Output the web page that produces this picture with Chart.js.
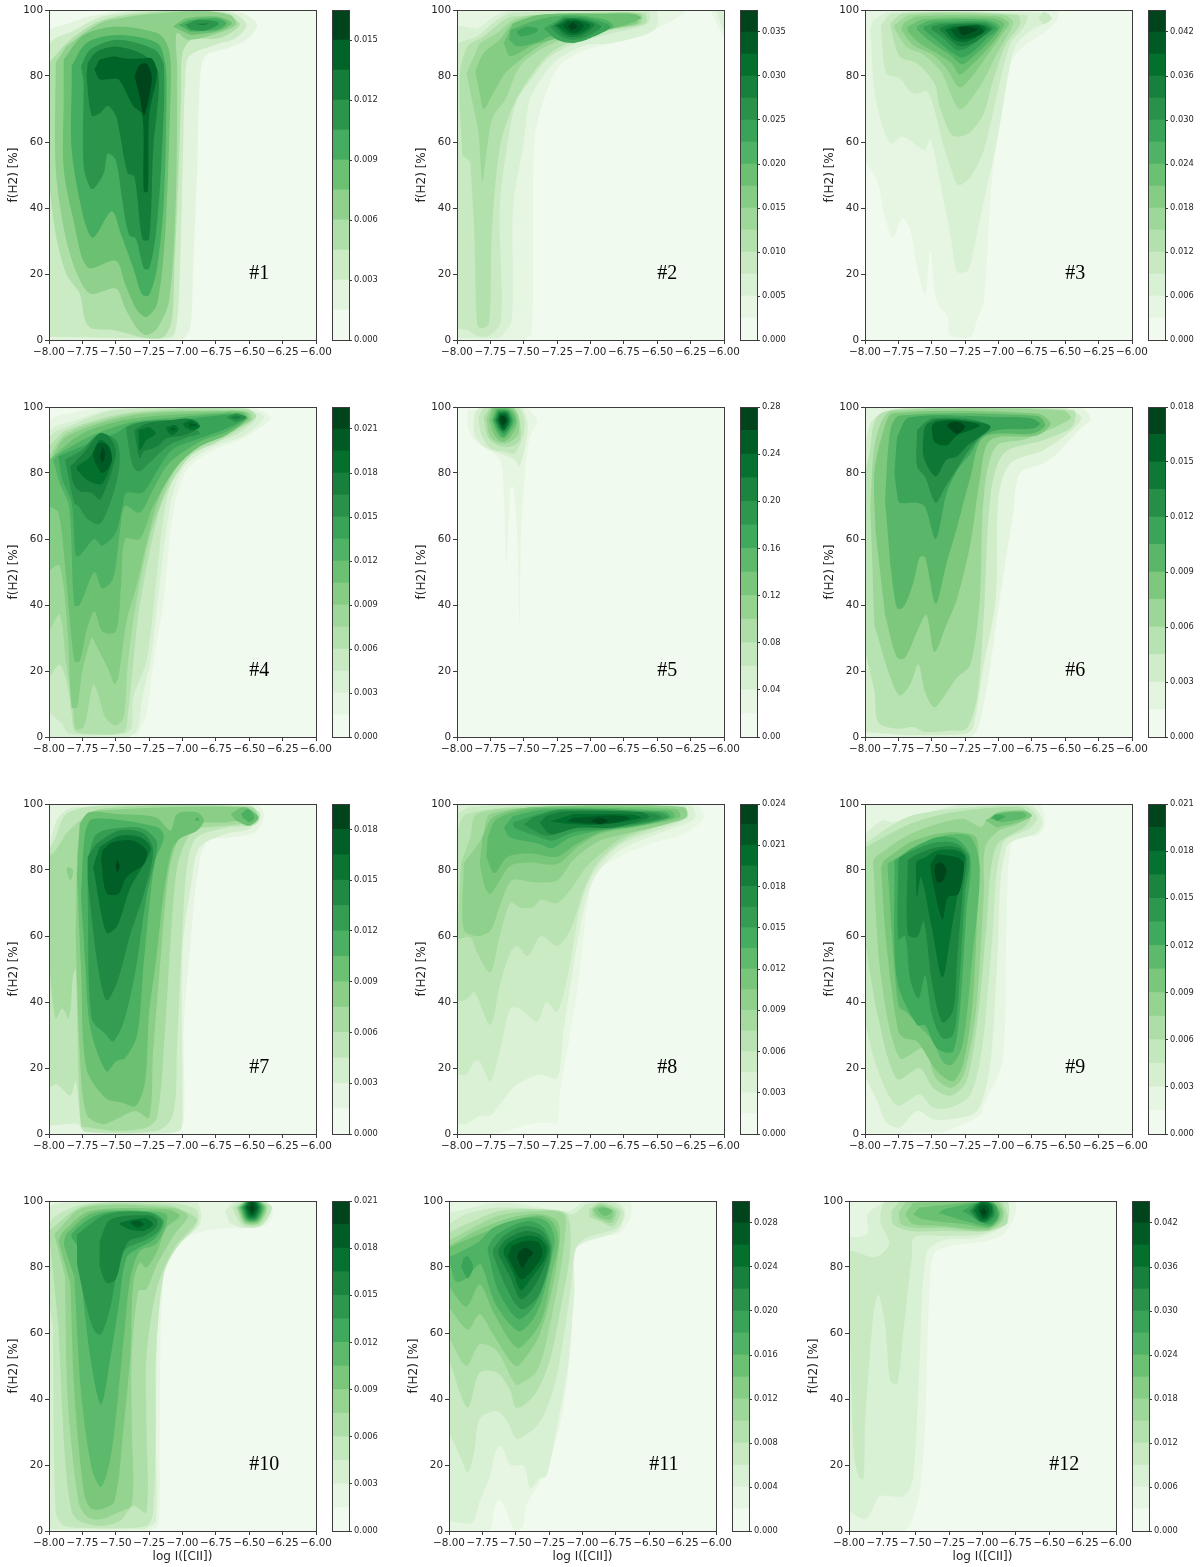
<!DOCTYPE html>
<html lang="en">
<head>
<meta charset="UTF-8" />
<title>f(H2) vs log I([CII])</title>
<script src="https://cdn.jsdelivr.net/npm/chart.js"></script>
<style>
  html, body { margin: 0; background: #fff; }
  body { position: relative; width: 1200px; height: 1567px; overflow: hidden; }
  canvas { position: absolute; filter: blur(0.55px); }
</style>
</head>
<body>
<script>
// axis ticks
const xTicks = [-8, -7.75, -7.5, -7.25, -7, -6.75, -6.5, -6.25, -6];
const yTicks = [0, 20, 40, 60, 80, 100];
const panelNames = ['#1','#2','#3','#4','#5','#6','#7','#8','#9','#10','#11','#12'];
const bandCounts = [11, 15, 15, 15, 14, 12, 13, 16, 14, 14, 15, 15];
const cbarMax = [0.0165, 0.0375, 0.045, 0.0225, 0.28, 0.018, 0.0195, 0.024, 0.021, 0.021, 0.03, 0.045];
const cbarTicks = [
  ['0.000','0.003','0.006','0.009','0.012','0.015'],
  ['0.000','0.005','0.010','0.015','0.020','0.025','0.030','0.035'],
  ['0.000','0.006','0.012','0.018','0.024','0.030','0.036','0.042'],
  ['0.000','0.003','0.006','0.009','0.012','0.015','0.018','0.021'],
  ['0.00','0.04','0.08','0.12','0.16','0.20','0.24','0.28'],
  ['0.000','0.003','0.006','0.009','0.012','0.015','0.018'],
  ['0.000','0.003','0.006','0.009','0.012','0.015','0.018'],
  ['0.000','0.003','0.006','0.009','0.012','0.015','0.018','0.021','0.024'],
  ['0.000','0.003','0.006','0.009','0.012','0.015','0.018','0.021'],
  ['0.000','0.003','0.006','0.009','0.012','0.015','0.018','0.021'],
  ['0.000','0.004','0.008','0.012','0.016','0.020','0.024','0.028'],
  ['0.000','0.006','0.012','0.018','0.024','0.030','0.036','0.042']
];
const labelX = -6.5, labelY = 18.5;

// contour regions: [band, [x,y, x,y, ...]] in data units
const contours1 = [
[1,[-8,0,-8,93,-7.85,96,-7.7,98,-7.5,99.5,-7.2,100,-6.75,100,-6.55,99,-6.44,95.5,-6.52,91,-6.66,88.5,-6.83,86,-6.87,78,-6.89,52,-6.92,22,-6.94,4,-6.99,0.5,-7.1,0]],
[2,[-8,1,-8,89,-7.8,94,-7.6,98,-7.3,99.7,-6.9,100,-6.62,99,-6.52,95.5,-6.6,91.5,-6.75,89.5,-6.95,86,-6.98,78,-7,50,-7.02,20,-7.04,6,-7.08,1,-7.3,0.5]],
[3,[-8,48,-7.95,32,-7.87,20,-7.77,14,-7.73,6,-7.68,3.5,-7.52,3,-7.27,0.5,-7.14,1,-7.08,6,-7.06,22,-7.03,50,-7.01,75,-7,87,-6.93,91,-6.72,91.5,-6.57,95.5,-6.66,98.5,-6.85,99.7,-7.2,99.5,-7.6,97,-7.84,91,-8,84]],
[4,[-7.95,84,-7.95,52,-7.88,32,-7.79,20,-7.69,14,-7.5,15.6,-7.43,9.6,-7.34,3.5,-7.27,1.5,-7.19,3.5,-7.1,12,-7.05,42,-7.04,83,-7.05,90,-7.04,93,-6.96,91,-6.77,92.5,-6.6,95.5,-6.64,98.5,-6.87,99.7,-7.12,99.2,-7.37,98.2,-7.62,96,-7.87,89]],
[5,[-7.89,73,-7.89,52,-7.82,37,-7.71,22,-7.5,24,-7.43,17,-7.34,9,-7.27,7,-7.19,11,-7.13,32,-7.09,73,-7.09,85,-7.12,90,-7.19,93,-7.49,95,-7.74,92.4,-7.89,85]],
[5,[-7.07,95,-6.97,97.5,-6.74,98,-6.63,96,-6.74,93.5,-6.94,92.4]],
[6,[-7.83,78,-7.83,57.6,-7.74,37,-7.67,31,-7.53,39,-7.46,32,-7.37,22,-7.3,13.6,-7.25,13.6,-7.19,22,-7.14,42,-7.12,73,-7.13,84,-7.19,90,-7.49,92.4,-7.72,90,-7.83,83]],
[6,[-7.03,95.5,-6.94,97,-6.74,97.5,-6.67,96,-6.74,94,-6.94,93.4]],
[7,[-7.74,78,-7.74,52.5,-7.69,46,-7.66,46,-7.59,50.5,-7.56,56.5,-7.5,54.5,-7.45,42,-7.4,31.8,-7.35,30.8,-7.29,21.7,-7.25,21.7,-7.2,32,-7.16,52.5,-7.14,83,-7.21,88,-7.49,91,-7.69,88,-7.76,83]],
[7,[-6.98,95.5,-6.89,97,-6.74,96.5,-6.73,95.5,-6.84,93.7,-6.94,94]],
[8,[-7.72,80,-7.68,68,-7.62,68.7,-7.56,71,-7.5,68,-7.47,62.6,-7.41,50.5,-7.36,49.5,-7.3,30.5,-7.25,30.5,-7.22,57.6,-7.18,80.8,-7.29,86.4,-7.49,88.9,-7.64,87.4,-7.71,84]],
[8,[-6.9,95.8,-6.8,95.9,-6.85,95.4]],
[9,[-7.66,82,-7.62,79,-7.56,79,-7.48,79,-7.37,71,-7.3,68.2,-7.29,45,-7.26,45,-7.25,68,-7.19,81,-7.23,85.3,-7.29,85.3,-7.43,85.3,-7.52,85.9,-7.62,85]],
[10,[-7.36,80,-7.32,83.3,-7.27,83.8,-7.23,80,-7.25,73.7,-7.29,68,-7.32,73.7]]
];
const contours2 = [
[1,[-8,0,-8,100,-6.3,100,-6.55,93.5,-6.8,90.4,-7.03,88,-7.23,83.3,-7.35,72.7,-7.42,60.6,-7.43,32,-7.44,2,-7.49,0]],
[1,[-6.1,100,-6,92,-6,100]],
[2,[-6.06,100,-6,94,-6,100]],
[2,[-8,0.5,-8,94.5,-7.85,94.5,-7.7,98.5,-7.58,100,-6.52,100,-6.52,94,-6.83,90,-7.03,89.4,-7.25,85,-7.38,78.6,-7.46,72,-7.5,60,-7.58,40,-7.59,6,-7.68,0.5]],
[3,[-8,3.5,-8,89,-7.85,92,-7.7,97,-7.58,99.2,-6.57,99.5,-6.57,96,-6.83,93,-7.08,90.4,-7.3,86,-7.43,79.8,-7.55,72.7,-7.62,60,-7.68,40,-7.67,6,-7.75,1.5,-7.83,1,-7.92,3]],
[4,[-7.96,56,-7.98,80,-7.92,89,-7.8,92,-7.68,96,-7.58,98,-6.6,99,-6.59,96,-6.83,94,-7.08,91.5,-7.3,87,-7.43,81,-7.58,71,-7.68,58,-7.74,32,-7.76,5,-7.82,3.5,-7.85,5,-7.87,32,-7.9,54]],
[5,[-7.93,80.8,-7.89,73,-7.84,63,-7.81,48,-7.77,59.6,-7.73,67.7,-7.64,72.7,-7.53,82.8,-7.38,87.9,-7.18,91.4,-6.83,94.4,-6.63,95.9,-6.62,98.8,-6.88,99.2,-7.43,98.5,-7.58,97,-7.7,93,-7.83,90]],
[6,[-7.86,80.8,-7.83,74.7,-7.8,70,-7.73,74.7,-7.64,80.8,-7.53,84.8,-7.35,89.9,-7.18,93,-6.88,94.4,-6.65,96,-6.66,98.5,-6.92,99,-7.38,98.5,-7.58,96,-7.68,91,-7.8,87,-7.86,82]],
[7,[-7.65,90,-7.6,86,-7.43,89.4,-7.18,92,-6.83,94.4,-6.62,97.5,-6.67,98.8,-6.92,98.8,-7.38,98.5,-7.58,96]],
[8,[-7.61,91,-7.55,89,-7.39,90.4,-7.3,92,-7.13,91.4,-6.98,93,-6.83,95,-6.88,97,-7.15,98.5,-7.4,97,-7.6,94]],
[9,[-7.55,93,-7.52,92,-7.4,93.4,-7.4,94.4,-7.48,94.9,-7.55,93.7]],
[9,[-7.35,94.4,-7.25,91,-7.13,90,-7,91.5,-6.85,95,-7.05,97.8,-7.2,98]],
[10,[-7.3,94.8,-7.22,92,-7.13,91,-7.03,92,-6.92,95,-7.05,97.3,-7.2,97.6]],
[11,[-7.27,95.3,-7.2,92.6,-7.13,91.8,-7.05,92.6,-6.97,95.5,-7.08,97.2,-7.18,97.4]],
[12,[-7.25,95.2,-7.18,93,-7.13,92.4,-7.07,93,-7,95.4,-7.1,97,-7.18,97]],
[13,[-7.21,95.2,-7.16,93.5,-7.13,93,-7.08,93.6,-7.05,95.3,-7.1,96.6,-7.17,96.6]],
[14,[-7.17,95.2,-7.14,94,-7.1,95,-7.13,96.2]]
];
const contours3 = [
[1,[-8,54,-7.91,48.5,-7.85,37,-7.79,31,-7.72,37,-7.66,33,-7.61,22,-7.55,14,-7.51,27,-7.48,15,-7.45,10.6,-7.38,7,-7.37,2,-7.32,0.8,-7.21,1,-7.16,6,-7.11,12,-7.04,52,-6.91,84,-6.81,89,-6.66,93,-6.56,97,-6.56,100,-8,100]],
[2,[-7.96,94,-7.92,73,-7.81,59.6,-7.72,61.6,-7.58,58,-7.55,57.6,-7.51,61,-7.44,48.5,-7.41,42,-7.36,32,-7.31,20.7,-7.23,21,-7.2,25,-7.1,44,-7.01,60.6,-6.91,84,-6.86,89.9,-6.75,94,-6.61,97,-6.63,99,-7.81,99.5,-7.94,97]],
[3,[-6.7,97.5,-6.66,99.5,-6.6,97.5,-6.66,95.5]],
[3,[-7.88,94,-7.84,80.8,-7.74,79.3,-7.64,74.7,-7.53,75.2,-7.41,58.6,-7.36,52.5,-7.3,47,-7.21,49.5,-7.11,57.6,-7.01,74.7,-6.91,89.9,-6.81,95,-6.79,98.5,-7.79,99,-7.88,95.5]],
[4,[-7.81,95,-7.74,85.9,-7.61,83.8,-7.48,77.8,-7.44,70.7,-7.36,62.6,-7.3,61.6,-7.21,63,-7.11,68.7,-7.04,78.8,-6.94,89.9,-6.84,95.5,-6.86,98.5,-7.71,99,-7.81,96]],
[5,[-7.78,94.4,-7.69,88.9,-7.56,86.4,-7.43,81.3,-7.36,74.7,-7.29,69.9,-7.21,72.7,-7.11,78.8,-7.01,86.9,-6.91,93.9,-6.89,96.5,-6.96,98.5,-7.66,98.5,-7.78,95.5]],
[6,[-7.73,94,-7.64,89.4,-7.49,86.4,-7.39,82.3,-7.29,76.6,-7.19,80.3,-7.09,85.9,-6.97,92.9,-6.92,96,-7.01,98,-7.61,98,-7.71,96]],
[7,[-7.68,93.4,-7.59,89.9,-7.44,86.4,-7.35,83.8,-7.29,80.5,-7.19,83.8,-7.09,87.9,-6.99,92.9,-6.96,96,-7.06,97.5,-7.56,97.2,-7.68,95]],
[8,[-7.61,94,-7.51,90.4,-7.36,86.4,-7.27,83.6,-7.19,85.9,-7.06,90.9,-6.99,95,-7.09,97,-7.51,96.8,-7.61,95]],
[9,[-7.56,94,-7.45,90.4,-7.34,86.9,-7.27,85.6,-7.19,87.4,-7.09,91.4,-7.01,94.4,-7.1,96.5,-7.46,96.2,-7.56,95]],
[10,[-7.5,94,-7.41,91.4,-7.31,87.9,-7.24,88.4,-7.14,91.4,-7.04,94.4,-7.11,96,-7.41,95.8,-7.5,95]],
[11,[-7.44,94,-7.36,90.9,-7.29,89,-7.19,89.9,-7.09,92.9,-7.06,94.4,-7.14,95.7,-7.36,95.5,-7.44,94.5]],
[12,[-7.4,94,-7.33,90.9,-7.24,90.4,-7.14,92.4,-7.09,94.4,-7.15,95.5,-7.34,95]],
[13,[-7.36,94,-7.3,91.4,-7.21,91.4,-7.11,93.4,-7.16,95.2,-7.31,94.8]],
[14,[-7.3,94,-7.27,92.4,-7.22,92.9,-7.16,94,-7.24,95,-7.3,94.8]]
];
const contours4 = [
[1,[-8,0,-8,95,-7.8,98.5,-7.5,100,-6.5,100,-6.34,97,-6.39,94.5,-6.57,90,-6.77,87,-6.97,80.8,-7.07,67.7,-7.14,42,-7.22,22,-7.27,7,-7.34,0.5]],
[2,[-8,0,-8,92,-7.8,96,-7.5,99.5,-6.6,100,-6.39,97,-6.54,91.4,-6.77,88,-6.99,81.8,-7.09,70.7,-7.17,46.5,-7.24,23,-7.3,12,-7.34,2,-7.4,0]],
[3,[-8,7.5,-8,90,-7.8,95,-7.5,99,-6.65,99.5,-6.45,97,-6.58,92,-6.77,89,-7,83,-7.12,72,-7.2,46,-7.27,23,-7.37,12,-7.38,3,-7.43,1,-7.85,1,-7.9,4]],
[4,[-8,18,-7.92,22,-7.87,17,-7.83,7,-7.81,2,-7.74,1,-7.44,1.5,-7.41,7,-7.37,22,-7.32,40,-7.18,67.7,-7.07,78,-6.92,86,-6.74,89.4,-6.45,97,-6.52,99.5,-7.37,98.5,-7.87,93,-8,88]],
[5,[-8,32,-7.92,37,-7.87,22,-7.82,9,-7.8,2.5,-7.74,3,-7.67,16,-7.64,14,-7.58,6,-7.5,3.5,-7.44,6,-7.41,22,-7.35,40,-7.25,60,-7.17,70,-7.07,80,-6.94,87,-6.74,91,-6.48,96,-6.5,98.5,-6.7,99,-7.37,98,-7.87,92,-8,85]],
[6,[-8,50.5,-7.92,52,-7.86,32,-7.83,9,-7.79,9,-7.75,20,-7.68,30,-7.65,28,-7.55,20,-7.51,16,-7.48,18,-7.42,35,-7.35,45,-7.25,62,-7.18,72,-7.07,81,-6.94,88,-6.74,92,-6.5,96,-6.52,98.4,-6.7,98.8,-7.37,97.5,-7.87,91,-8,83]],
[7,[-8,70,-7.93,68,-7.88,52,-7.81,23,-7.77,23,-7.72,32,-7.66,38,-7.6,32,-7.5,32,-7.46,46,-7.43,60,-7.32,60,-7.22,70,-7.04,82,-6.87,88,-6.67,91.5,-6.51,96.5,-6.55,98.4,-6.72,98.3,-7.37,96.5,-7.75,92,-8,84]],
[8,[-7.97,84,-7.92,77,-7.85,70,-7.81,40,-7.77,40,-7.66,50,-7.6,45,-7.52,48,-7.47,62,-7.43,70,-7.32,68,-7.22,75,-7.1,83,-6.87,89.5,-6.67,92.5,-6.52,96.5,-6.57,98,-6.75,97.8,-7,97,-7.37,95.5,-7.7,91,-7.92,86]],
[9,[-7.93,85,-7.9,78,-7.83,71,-7.8,55,-7.77,55,-7.66,60,-7.6,58,-7.5,62,-7.45,70,-7.42,74,-7.3,74,-7.2,80,-7.08,87,-6.87,90.5,-6.67,93.5,-6.53,96.5,-6.6,97.8,-6.78,97.2,-7,96.2,-7.37,95,-7.5,92,-7.7,89]],
[10,[-7.88,84,-7.85,78,-7.81,71,-7.78,70,-7.71,66,-7.62,64.6,-7.55,70,-7.49,78,-7.47,85,-7.5,90,-7.62,92,-7.75,87]],
[10,[-7.42,92,-7.37,82,-7.32,80.5,-7.25,83,-7.1,88.5,-6.95,91,-6.87,92,-6.97,95.5,-7.1,96,-7.3,95.5,-7.42,94]],
[10,[-6.67,96.8,-6.6,98,-6.52,96.8,-6.6,95.4]],
[11,[-6.64,96.8,-6.6,97.4,-6.56,96.8,-6.6,96.2]],
[11,[-7.84,82,-7.82,77,-7.77,74.5,-7.68,74,-7.62,72,-7.57,76,-7.52,82,-7.5,87,-7.55,91,-7.62,92,-7.72,87]],
[11,[-7.35,90,-7.32,84.5,-7.29,86.5,-7.19,88,-7.12,90.5,-6.98,91.5,-6.87,94,-6.89,95.5,-6.97,96.5,-7.09,96,-7.2,95.5,-7.3,94.5,-7.36,93]],
[12,[-7.79,81,-7.72,78,-7.62,76.5,-7.58,78,-7.53,84,-7.55,88,-7.62,90,-7.69,85,-7.79,82]],
[12,[-7.12,93,-7.08,91.5,-7.03,93,-7.05,94.5,-7.12,94]],
[12,[-6.98,93.8,-6.93,93,-6.87,94,-6.93,96,-7,95]],
[12,[-7.33,93,-7.32,87,-7.27,90,-7.2,92,-7.25,94]],
[13,[-7.66,83.5,-7.6,80,-7.53,83.5,-7.56,88.5,-7.63,89,-7.67,86]],
[13,[-7.1,93,-7.05,93,-7.07,94]],
[13,[-6.95,94,-6.89,94.5,-6.95,95.2]],
[14,[-7.62,85,-7.6,83,-7.58,86,-7.6,88]]
];
const contours5 = [
[1,[-7.92,99,-7.92,94,-7.87,90,-7.68,84,-7.65,73,-7.63,52,-7.6,75,-7.58,76,-7.55,62,-7.53,34,-7.52,62,-7.49,79.8,-7.46,90,-7.43,93,-7.4,96,-7.48,100]],
[2,[-7.87,98,-7.87,92,-7.8,88,-7.68,86,-7.57,84,-7.53,82,-7.47,93,-7.49,98,-7.53,100,-7.83,100]],
[3,[-7.84,97,-7.82,92,-7.75,87.5,-7.65,86.5,-7.57,86,-7.5,92,-7.5,97,-7.55,100,-7.8,100]],
[4,[-7.8,97,-7.77,91,-7.7,88.5,-7.6,88,-7.53,90,-7.53,96,-7.58,100,-7.75,100]],
[5,[-7.78,96.5,-7.75,91,-7.67,89,-7.6,89.5,-7.54,92,-7.54,97,-7.59,100,-7.74,100]],
[6,[-7.76,96,-7.72,91.5,-7.66,89.5,-7.6,91,-7.55,95,-7.59,99.5,-7.73,99.8]],
[7,[-7.74,96,-7.7,92,-7.65,90.5,-7.6,92.5,-7.56,96,-7.61,99.3,-7.71,99.5]],
[8,[-7.73,96,-7.69,92.5,-7.65,91,-7.61,93,-7.58,96,-7.62,99,-7.7,99.2]],
[9,[-7.72,96,-7.68,93,-7.65,92,-7.61,93.5,-7.59,96,-7.62,98.7,-7.69,98.8]],
[10,[-7.71,96,-7.68,93.3,-7.65,92.6,-7.62,94,-7.6,96,-7.63,98.4,-7.69,98.4]],
[11,[-7.7,96,-7.67,93.7,-7.65,93,-7.62,94.4,-7.61,96,-7.63,98,-7.68,98]],
[12,[-7.69,96,-7.67,94.2,-7.65,93.6,-7.63,95,-7.62,96,-7.64,97.6,-7.68,97.6]],
[13,[-7.68,96,-7.66,94.6,-7.64,95,-7.63,96,-7.65,97.2,-7.67,97.2]]
];
const contours6 = [
[1,[-8,0,-8,100,-6.4,100,-6.31,96.5,-6.41,92.5,-6.56,86,-6.66,83,-6.84,79.8,-6.89,67.7,-6.99,42,-7.06,22,-7.11,10,-7.16,2,-7.21,0]],
[2,[-8,1.5,-8,85,-7.96,95,-7.85,98.5,-7.6,100,-6.55,100,-6.38,97,-6.45,93,-6.66,87,-6.91,83,-7,72.7,-7.02,42,-7.11,22,-7.19,3,-7.24,1,-7.7,0.5]],
[3,[-8,26,-7.93,14,-7.9,4.5,-7.76,2.5,-7.64,3,-7.55,1.5,-7.36,2,-7.24,2.5,-7.16,12,-7.11,37,-7.06,73,-6.96,86,-6.66,90,-6.45,94,-6.44,99,-7.6,99.6,-7.9,97.5,-7.97,85,-8,80]],
[4,[-7.93,34,-7.81,18,-7.74,12.6,-7.66,16,-7.6,22,-7.55,13.6,-7.48,9,-7.38,14,-7.31,18,-7.21,22,-7.14,42,-7.11,73,-7.02,88,-6.79,90.4,-6.46,96.5,-6.52,99,-7.8,98.8,-7.92,90,-7.96,70]],
[5,[-7.85,37,-7.76,24,-7.7,24,-7.61,32,-7.54,37,-7.48,25.8,-7.39,34,-7.31,42,-7.21,58.6,-7.14,77.8,-7.06,90,-6.71,91.4,-6.61,95,-6.71,98,-7.79,98.1,-7.86,93,-7.93,80,-7.92,62]],
[6,[-7.81,52,-7.76,39,-7.71,39.4,-7.64,46.5,-7.59,54.5,-7.55,54.5,-7.47,40.4,-7.39,52.5,-7.31,63.6,-7.21,78.8,-7.11,90.9,-6.74,92,-6.65,94.5,-6.71,97.3,-7.74,97.4,-7.81,93,-7.85,72]],
[7,[-7.78,80,-7.76,73.7,-7.74,71,-7.61,71,-7.55,69.7,-7.47,60,-7.39,73.7,-7.31,80.8,-7.21,85.9,-7.14,90.4,-7.01,93,-6.74,93.5,-6.69,95,-6.76,96.6,-7.01,97,-7.67,96.8,-7.76,91]],
[8,[-7.61,93,-7.61,82,-7.55,78.8,-7.47,71,-7.4,75.7,-7.31,81.3,-7.24,85.9,-7.16,90,-7.06,94,-7.21,96.3,-7.49,96.6,-7.56,95]],
[9,[-7.56,93,-7.56,84.8,-7.47,79,-7.39,84,-7.31,85,-7.24,88,-7.06,94,-7.24,95.9,-7.46,96.2,-7.54,94.8]],
[10,[-7.5,93,-7.48,89.4,-7.39,88.4,-7.31,91.4,-7.14,94.4,-7.31,95.9,-7.46,95.5,-7.5,94.4]],
[11,[-7.39,94.4,-7.31,91.9,-7.25,94,-7.31,95.6,-7.36,95.3]]
];
const contours7 = [
[1,[-8,0,-8,100,-6.45,100,-6.39,96.5,-6.46,91.4,-6.64,89.9,-6.82,88.4,-6.89,77.8,-6.93,62.6,-6.99,32,-6.99,4,-7.05,1,-7.2,0]],
[2,[-8,2.5,-7.79,3,-7.73,0.5,-7.2,0.2,-7.02,1,-7,5,-7,55,-6.93,77,-6.87,87,-6.67,91,-6.5,92.4,-6.42,96.5,-6.5,99.8,-7.8,99,-7.93,96,-8,87]],
[3,[-8,14,-7.94,15,-7.84,11.6,-7.8,16,-7.76,3,-7.73,0.7,-7.19,1,-7.07,6,-7.04,27,-7,62,-6.96,83,-6.89,90,-6.66,92.9,-6.45,93.9,-6.42,97,-6.52,99.5,-7.62,99.5,-7.87,97,-7.96,89,-8,86]],
[4,[-8,52,-7.95,35,-7.9,38,-7.85,35,-7.82,48,-7.8,50,-7.76,2.5,-7.7,2,-7.5,1,-7.27,2,-7.19,5,-7.13,32,-7.09,58,-7.04,81,-6.96,90,-6.89,92.5,-6.66,93.5,-6.44,95,-6.48,99,-7.62,98.5,-7.85,92,-7.95,86,-8,84]],
[5,[-7.8,60,-7.77,25,-7.72,6,-7.6,3,-7.5,4.5,-7.35,7,-7.25,5,-7.22,25,-7.16,55,-7.1,80,-7.02,90,-6.89,94,-6.66,94.5,-6.46,96.5,-6.52,99,-7.62,98,-7.75,95,-7.79,85]],
[5,[-7.87,80,-7.84,76.8,-7.82,80,-7.86,81]],
[6,[-6.64,97,-6.54,99,-6.43,96,-6.5,93.4,-6.6,95]],
[6,[-7.79,78,-7.76,50,-7.72,20,-7.58,11,-7.45,9.5,-7.35,8.5,-7.28,16,-7.25,37,-7.2,52,-7.14,73,-7.08,86,-7.02,89.5,-6.89,92,-6.84,95,-6.89,97.5,-7.04,97,-7.09,92,-7.2,96,-7.5,97,-7.7,97.5,-7.77,94]],
[7,[-7.73,52.5,-7.69,32,-7.57,19,-7.5,22,-7.43,23,-7.34,30,-7.29,52,-7.21,82,-7.14,90,-7.19,93,-7.67,95.5,-7.73,91,-7.76,72]],
[7,[-6.91,95,-6.89,96,-6.87,95]],
[7,[-6.56,97,-6.51,98.5,-6.46,96,-6.5,94.5,-6.55,96]],
[8,[-7.71,72,-7.68,35,-7.57,30,-7.52,28,-7.44,34,-7.35,50,-7.27,72,-7.19,88,-7.27,92,-7.37,93,-7.64,91,-7.71,83]],
[9,[-7.71,77,-7.64,52.5,-7.57,40.5,-7.49,46,-7.39,60.6,-7.29,72.7,-7.22,86,-7.29,91,-7.47,92,-7.64,88,-7.71,84]],
[10,[-7.67,81,-7.57,61,-7.49,63,-7.39,74.7,-7.27,83,-7.24,87,-7.32,90,-7.47,90.4,-7.62,87]],
[11,[-7.61,83,-7.57,73,-7.48,72.7,-7.42,77.8,-7.29,81.8,-7.27,85.9,-7.37,88.9,-7.52,88.4,-7.6,85.9]],
[12,[-7.5,81,-7.49,79.5,-7.47,81,-7.49,83.3]]
];
const contours8 = [
[1,[-8,0,-8,100,-6.22,100,-6.15,96,-6.3,91,-6.55,88,-6.83,83,-6.98,78,-7.1,43,-7.23,12,-7.25,3.5,-7.36,3.5,-7.5,2.5,-7.62,1,-7.72,0]],
[2,[-8,3,-7.93,3,-7.83,5.5,-7.75,5.5,-7.68,9,-7.58,14,-7.53,15.5,-7.38,18,-7.25,17,-7.2,32,-7.08,62,-6.98,77,-6.78,86,-6.43,92,-6.22,95.5,-6.25,99.5,-7,100,-8,100]],
[3,[-8,18,-7.93,18,-7.87,22,-7.83,22,-7.75,16,-7.68,25,-7.6,38,-7.53,38,-7.4,34,-7.33,40,-7.25,37,-7.17,48,-7.08,68,-6.98,79,-6.78,87.5,-6.43,93,-6.27,96,-6.3,99.5,-7.4,100,-7.9,99,-8,97]],
[4,[-8,40,-7.92,41,-7.87,43,-7.75,33,-7.68,45,-7.6,55,-7.55,57,-7.47,54,-7.37,60,-7.25,57,-7.15,62,-7.05,74,-6.95,82,-6.75,89,-6.43,94,-6.3,96.5,-6.34,99,-7.4,99.5,-7.93,97,-8,92]],
[5,[-8,59,-7.9,59.6,-7.85,55,-7.75,49,-7.68,60,-7.6,70,-7.52,68.5,-7.43,68.7,-7.37,71,-7.25,70,-7.15,74,-7.05,80,-6.95,84,-6.75,90,-6.43,94.5,-6.33,96.5,-6.37,99,-7.37,99,-7.85,97,-7.9,90,-7.97,82]],
[6,[-7.95,81,-7.95,62,-7.85,60,-7.75,61.6,-7.68,69,-7.59,76.8,-7.43,76.3,-7.25,76.8,-7.13,83,-6.93,88.9,-6.53,92.9,-6.28,96,-6.3,99,-7.13,99.5,-7.75,97,-7.81,90,-7.95,82]],
[7,[-7.83,82,-7.79,74.7,-7.75,72.7,-7.68,76.8,-7.6,81.3,-7.45,82.3,-7.25,81.8,-7.1,86.9,-6.93,90.9,-6.6,93.4,-6.33,96,-6.36,98.5,-7.43,99,-7.73,96,-7.81,90]],
[8,[-7.78,84,-7.72,79,-7.62,84,-7.45,85,-7.25,84,-7.1,88,-6.93,91.4,-6.62,93.6,-6.37,96,-6.4,98,-7.4,98.7,-7.7,95.5,-7.77,90]],
[9,[-7.65,92.9,-7.6,89.9,-7.38,87.9,-7.29,86.6,-7.15,89.9,-6.93,91.9,-6.65,93.4,-6.4,96,-6.45,97.7,-7.33,98.3,-7.58,96.4]],
[10,[-7.58,94.4,-7.57,92.9,-7.38,89.9,-7.29,88.9,-7.13,91.4,-6.88,92.4,-6.63,93.9,-6.42,96,-6.5,97.5,-7.22,98.5,-7.44,96.4]],
[11,[-7.5,93.9,-7.33,90.4,-7.13,92.4,-6.88,93,-6.6,94.4,-6.47,96,-6.55,97.2,-7.23,98,-7.43,96]],
[12,[-7.38,94.4,-7.3,90.9,-7.1,92.9,-6.83,92.9,-6.56,96,-6.62,97.5,-7.18,97.7,-7.33,96.4]],
[13,[-7.3,94.7,-7.13,93.9,-6.88,93.9,-6.62,95.8,-6.7,96.8,-7.13,97]],
[14,[-7.18,94.7,-7,94,-6.8,94.4,-6.7,95.8,-6.83,96.5,-7.13,95.8]],
[15,[-7,94.9,-6.93,93.9,-6.87,94.9,-6.93,95.9]]
];
const contours9 = [
[1,[-8,0,-8,100,-6.71,100,-6.65,94.4,-6.71,90.4,-6.89,89.9,-6.94,62.6,-6.97,22,-7.11,9,-7.14,5.6,-7.41,0.5]],
[2,[-8,17.5,-7.91,10,-7.84,3.5,-7.74,2,-7.61,7,-7.49,4.5,-7.36,4.5,-7.16,7,-7.06,22,-7.01,52,-6.94,87,-6.71,91.4,-6.67,95,-6.76,99.5,-7.28,99.8,-7.79,94.5,-7.87,95,-8,91]],
[3,[-8,34,-7.91,20,-7.76,8.6,-7.59,12,-7.49,8,-7.36,8,-7.21,12,-7.12,27,-7.05,57.6,-6.97,87.9,-6.76,92.9,-6.71,96,-6.81,99.5,-7.34,98.5,-7.66,96.4,-7.86,92,-8,88]],
[4,[-8,58.6,-7.91,37,-7.76,16.7,-7.59,20,-7.49,14,-7.36,11.6,-7.24,16,-7.15,37,-7.09,62.6,-7.02,86.9,-6.81,93,-6.76,96,-6.84,99,-7.34,97.5,-7.66,94,-7.99,87]],
[5,[-7.94,82.8,-7.88,47.5,-7.74,23,-7.56,26,-7.47,17,-7.35,14,-7.26,18,-7.17,37,-7.11,72.7,-7.1,87,-7,91.9,-6.86,93.9,-6.78,96.4,-6.86,98,-7.01,97.5,-7.1,94.5,-7.13,93,-7.28,95.5,-7.66,90.9,-7.92,84]],
[6,[-7.88,80.8,-7.84,57.6,-7.75,31,-7.7,29,-7.61,28,-7.46,19,-7.34,16,-7.26,22,-7.19,42,-7.15,82,-7.17,90,-7.29,91.4,-7.46,91,-7.66,88.4,-7.86,82.8]],
[6,[-7.1,95,-7.01,97,-6.81,98,-6.75,96.4,-6.86,94.4,-7.01,92.9]],
[7,[-7.83,80,-7.75,39,-7.68,36.5,-7.6,33,-7.49,28,-7.42,22,-7.35,21,-7.27,27,-7.2,52,-7.14,80,-7.21,90,-7.41,90.4,-7.66,86,-7.83,82]],
[7,[-7.06,95.5,-7.02,97,-6.82,97.5,-6.79,96.4,-6.86,95.2,-6.97,94.4]],
[8,[-7.05,96,-7.01,96.8,-6.95,96.2,-7.01,94.8]],
[8,[-7.78,82.8,-7.76,46.5,-7.61,33,-7.55,33,-7.48,27,-7.42,25,-7.34,25,-7.29,37,-7.24,67.7,-7.21,83.8,-7.31,89.4,-7.46,89.9,-7.66,86.4]],
[9,[-7.75,82.8,-7.75,59,-7.7,60,-7.66,46.5,-7.6,41,-7.55,48,-7.5,36.4,-7.42,29,-7.34,30,-7.3,42,-7.25,72.7,-7.22,83.8,-7.31,87.9,-7.46,88.4,-7.64,86,-7.74,83.8]],
[10,[-7.68,81.8,-7.68,60.6,-7.61,59.6,-7.56,64.6,-7.5,46.5,-7.42,33.8,-7.34,37.4,-7.31,52.5,-7.27,72.7,-7.24,83.8,-7.31,86.9,-7.46,86.9,-7.61,84.8,-7.68,83]],
[11,[-7.62,81.8,-7.61,71.7,-7.58,77.8,-7.5,62.6,-7.42,47.5,-7.35,62.6,-7.31,71.7,-7.25,83.8,-7.31,85.9,-7.46,85.9,-7.55,83.8,-7.61,82.8]],
[12,[-7.51,81.8,-7.5,77.8,-7.42,65,-7.38,71.7,-7.3,72.7,-7.26,81.8,-7.31,83.8,-7.46,84.8]],
[13,[-7.48,80,-7.46,76.3,-7.42,76.6,-7.39,80,-7.43,82.3,-7.47,81.8]]
];
const contours10 = [
[1,[-8,0,-8,100,-6.4,100,-6.32,97,-6.39,92.4,-6.77,91.4,-7.02,87.9,-7.14,77.8,-7.17,30,-7.18,2,-7.25,0]],
[2,[-8,0.5,-8,98,-7.6,99.7,-6.9,99.5,-6.87,93,-7.07,86,-7.17,75,-7.2,30,-7.2,3,-7.28,0.5]],
[2,[-6.68,97,-6.6,100,-6.38,100,-6.34,97,-6.42,92.9,-6.55,91.9,-6.65,93.4]],
[3,[-7.97,62,-7.95,6,-7.9,2,-7.79,1,-7.27,1.5,-7.22,6,-7.2,32,-7.2,52,-7.14,77.8,-7.04,86,-6.89,92.9,-6.9,97.5,-7.12,99.5,-7.74,99,-8,93,-8,70]],
[4,[-7.93,62,-7.88,22,-7.83,6,-7.77,3,-7.62,1.5,-7.47,3,-7.37,7.6,-7.27,5.6,-7.27,32,-7.27,53,-7.19,73.7,-7.06,85.9,-6.89,94,-6.96,96.5,-7.12,98.8,-7.74,98.5,-8,91]],
[5,[-7.88,77,-7.86,40,-7.78,9,-7.72,4.5,-7.62,3.5,-7.49,5.5,-7.38,8,-7.38,32,-7.38,53,-7.33,72.7,-7.27,73.2,-7.19,80.8,-7.06,89.9,-6.96,95.5,-7.09,98,-7.74,98,-7.96,90]],
[6,[-7.84,75,-7.81,42,-7.74,12,-7.69,7,-7.61,6.6,-7.51,9,-7.44,32,-7.39,54,-7.37,74.7,-7.32,81.3,-7.27,79.8,-7.19,84.8,-7.12,91.9,-7.02,95.5,-7.12,97.5,-7.69,97,-7.89,90.9,-7.93,87.9]],
[7,[-7.81,77,-7.76,42,-7.68,19,-7.61,13.4,-7.54,22,-7.48,42,-7.43,62.6,-7.39,76.8,-7.32,84.8,-7.2,86.9,-7.13,91.9,-7.12,95.9,-7.24,96.9,-7.67,96.4,-7.87,89.9,-7.89,86.9]],
[8,[-7.77,80.8,-7.69,52.5,-7.61,38.4,-7.54,52.5,-7.48,67.7,-7.42,82.8,-7.32,85.9,-7.2,88.9,-7.14,93.9,-7.24,96.7,-7.62,96,-7.83,89.9,-7.78,86]],
[9,[-7.79,80.8,-7.73,69.7,-7.66,60.6,-7.61,59.6,-7.54,67.7,-7.47,82.8,-7.41,85.9,-7.29,87.9,-7.19,90.4,-7.15,93.9,-7.24,96.4,-7.57,96,-7.79,89.9]],
[10,[-7.62,80,-7.57,75.2,-7.5,76.3,-7.45,83.8,-7.4,87.9,-7.29,89.4,-7.2,91.9,-7.19,94.4,-7.26,95.7,-7.54,94.4,-7.62,87.9]],
[11,[-7.47,92.9,-7.4,91.4,-7.29,91,-7.22,92.9,-7.27,94.7,-7.37,94.4,-7.47,93.4]],
[12,[-7.39,93.4,-7.34,91.9,-7.29,92.9,-7.32,94,-7.38,93.9]],
[3,[-6.63,98,-6.55,92.5,-6.41,92.5,-6.33,98,-6.4,100,-6.56,100]],
[4,[-6.6,98,-6.54,93,-6.42,93,-6.36,98,-6.42,100,-6.54,100]],
[5,[-6.59,98,-6.53,93.3,-6.43,93.3,-6.37,98,-6.43,100,-6.53,100]],
[6,[-6.58,98,-6.53,93.7,-6.43,93.7,-6.38,98,-6.43,100,-6.53,100]],
[7,[-6.57,98,-6.52,94,-6.44,94,-6.39,98,-6.44,100,-6.52,100]],
[8,[-6.56,98,-6.52,94.3,-6.44,94.3,-6.4,98,-6.44,100,-6.52,100]],
[9,[-6.55,98,-6.51,94.6,-6.45,94.6,-6.41,98,-6.45,100,-6.51,100]],
[10,[-6.54,98,-6.51,95,-6.45,95,-6.42,98,-6.45,100,-6.51,100]],
[11,[-6.53,98,-6.5,95.4,-6.46,95.4,-6.43,98,-6.46,100,-6.5,100]],
[12,[-6.52,98,-6.49,95.8,-6.47,95.8,-6.44,98,-6.47,99.9,-6.49,99.9]],
[13,[-6.5,98,-6.48,96.3,-6.46,98,-6.48,99.5]]
];
const contours11 = [
[1,[-8,0,-7.7,0,-7.66,7,-7.62,9.6,-7.57,6,-7.51,0.5,-7.45,1,-7.43,5,-7.42,8,-7.29,17,-7.17,32,-7.09,54.5,-7.07,72.7,-7.02,89.4,-6.74,90,-6.64,95,-6.66,100,-8,100]],
[2,[-8,3,-7.83,2.5,-7.77,9,-7.69,17,-7.66,23,-7.61,25.8,-7.54,20,-7.44,19.7,-7.39,13,-7.32,16,-7.27,16.7,-7.19,32,-7.11,50,-7.06,72.7,-7.04,85.9,-6.74,90.9,-6.68,96.5,-6.74,99.8,-7,99.5,-7.1,97,-7.6,99.5,-8,96.5]],
[3,[-8,30,-7.91,22,-7.86,17.7,-7.81,24,-7.77,34,-7.64,36.4,-7.56,33,-7.5,28,-7.44,28.8,-7.34,32,-7.27,37,-7.19,47.5,-7.09,72.7,-7.05,85.9,-6.96,89,-6.74,91.9,-6.69,96.5,-6.77,99.5,-6.97,99,-7.07,96,-7.17,97,-7.62,98,-7.87,96,-8,93]],
[4,[-8,52,-7.86,37.4,-7.77,48,-7.64,48,-7.54,42.4,-7.5,37.4,-7.43,38.4,-7.34,42.4,-7.24,52.5,-7.14,72.7,-7.09,85.9,-7.12,96,-7.32,97.5,-7.62,97,-7.87,93,-8,90.4]],
[4,[-6.95,97.5,-6.87,99.5,-6.72,97,-6.77,92.4,-6.87,93.9,-6.95,95]],
[5,[-8,58.6,-7.87,50,-7.77,56.6,-7.64,54.5,-7.5,44.4,-7.43,45.5,-7.34,48.5,-7.27,57.6,-7.17,77.8,-7.13,89.9,-7.14,96,-7.32,97,-7.62,95.7,-7.87,90.9,-8,88]],
[5,[-6.93,97.5,-6.87,99,-6.75,97,-6.78,93.4,-6.87,94.4,-6.92,95.5]],
[6,[-8,67.7,-7.86,61,-7.77,65.7,-7.67,59.6,-7.5,50,-7.41,53.5,-7.32,59.6,-7.23,72.7,-7.17,87.9,-7.19,93.9,-7.32,96,-7.54,94.9,-7.8,90.9,-8,86.4]],
[6,[-6.92,97.5,-6.86,98.5,-6.77,97,-6.79,94.4,-6.87,95,-6.9,96]],
[7,[-8,74.2,-7.87,68,-7.77,74.7,-7.66,65.7,-7.49,55.5,-7.39,58.6,-7.3,64.6,-7.23,77.8,-7.18,87.9,-7.22,93.4,-7.32,95.5,-7.52,93.9,-7.77,89.9,-8,85.9]],
[7,[-6.89,97.5,-6.84,98,-6.78,97,-6.82,95.5,-6.86,96]],
[8,[-8,83,-7.95,75.6,-7.87,76.6,-7.8,80,-7.76,80.8,-7.65,68.7,-7.48,60.6,-7.37,64.2,-7.3,70.7,-7.23,82.8,-7.21,88.9,-7.27,93.9,-7.42,94.9,-7.67,91.9,-7.77,87.9,-7.94,84]],
[9,[-7.91,80,-7.86,76.6,-7.82,80,-7.86,83.3,-7.89,82.8]],
[9,[-7.71,84.8,-7.63,72.7,-7.48,64.2,-7.37,67.7,-7.29,74.7,-7.23,85.9,-7.29,91.9,-7.42,93.9,-7.64,89.9,-7.71,85.9]],
[10,[-7.67,83.8,-7.57,73.7,-7.46,67.2,-7.34,70.7,-7.27,77.8,-7.24,85.9,-7.3,90.9,-7.43,92.4,-7.59,89.4,-7.67,85.4]],
[11,[-7.63,83.8,-7.54,76.8,-7.46,70.2,-7.36,74.2,-7.28,80.8,-7.25,85.9,-7.32,89.9,-7.43,90.9,-7.57,88.4,-7.63,85.4]],
[12,[-7.59,83.8,-7.52,78.3,-7.46,73,-7.38,76.8,-7.29,81.8,-7.27,85.9,-7.33,88.9,-7.43,89.4,-7.55,87.4,-7.59,85.4]],
[13,[-7.56,83.3,-7.46,76.3,-7.37,79.3,-7.3,83.8,-7.33,87.4,-7.43,87.9,-7.53,86.4]],
[14,[-7.49,82.8,-7.45,79.8,-7.41,82.3,-7.37,84.3,-7.43,85.9,-7.48,84.3]]
];
const contours12 = [
[1,[-8,0,-8,100,-6.77,100,-6.76,95,-6.88,89,-7.34,85,-7.39,78,-7.43,32,-7.47,12,-7.54,2,-7.59,0]],
[2,[-8,6,-7.88,3.5,-7.82,7,-7.77,10.6,-7.59,10.6,-7.52,16,-7.47,52.5,-7.42,84,-7.3,88,-7.02,89,-6.82,93,-6.8,97,-6.82,100,-7.69,100,-7.86,96,-7.86,90,-8,88.9]],
[3,[-8,72.7,-8,84.5,-7.8,83,-7.7,87,-7.76,93,-7.76,97,-7.72,100,-6.82,100,-6.8,97,-6.83,92.9,-7.02,89.9,-7.29,89.4,-7.51,89,-7.53,82.8,-7.56,72.7,-7.6,57.6,-7.64,44.5,-7.69,45.5,-7.73,62.6,-7.78,71.7,-7.82,64.6,-7.88,32,-7.89,16,-7.92,16,-7.96,22,-7.98,42]],
[4,[-7.68,97,-7.67,93,-7.54,90.9,-7.29,90.9,-6.99,90.9,-6.82,93,-6.82,97,-6.87,100,-7.62,100]],
[5,[-7.63,96.5,-7.61,93,-7.52,91.9,-7.29,91.9,-6.97,90.9,-6.85,93.9,-6.84,97,-6.89,100,-7.57,100]],
[6,[-7.58,96,-7.52,93,-7.29,92.4,-6.97,91.4,-6.87,93.9,-6.85,97,-6.92,100,-7.52,99.5]],
[7,[-7.52,96,-7.44,94.4,-7.12,92.9,-6.95,91.9,-6.88,94.4,-6.87,97,-6.94,100,-7.29,98.8,-7.47,98]],
[8,[-7.33,96.4,-7.12,93.9,-6.94,92.4,-6.88,95,-6.89,98,-6.95,100,-7.12,99,-7.29,97.5]],
[9,[-7.15,97,-7.04,94.4,-6.95,92.9,-6.89,95,-6.9,98.5,-6.97,100,-7.07,99]],
[10,[-7.1,97,-7.03,93.9,-6.97,93.4,-6.91,95.5,-6.92,98.5,-6.98,100,-7.05,99]],
[11,[-7.08,97,-7.02,94,-6.97,93.9,-6.92,96,-6.93,98.8,-6.99,100,-7.05,98.8]],
[12,[-7.06,97,-7.01,94.2,-6.97,94.3,-6.93,96.5,-6.94,98.8,-7,99.7,-7.04,98.5]],
[13,[-7.03,97,-7,94.8,-6.97,95,-6.95,96.8,-6.96,98.5,-7,99,-7.03,98.2]],
[14,[-7.02,96.8,-6.99,95.5,-6.97,96.8,-6.99,98]]
];
const panelContours = [contours1,contours2,contours3,contours4,contours5,contours6,contours7,contours8,contours9,contours10,contours11,contours12];

// layout, pixels
const plotLeft = [49,457,865, 49,457,865, 49,457,865, 49,449,849];
const plotTop = [10,10,10, 407,407,407, 804,804,804, 1201,1201,1201];
const cbarLeft = [332,740,1148, 332,740,1148, 332,740,1148, 332,732,1132];
const plotW = 266, plotH = 330, cbarW = 17;
const axisColor = '#3c3c3c', textColor = '#262626';
const fontName = '"DejaVu Sans", sans-serif';

// matplotlib Greens anchors
const greens = [[247,252,245],[229,245,224],[199,233,192],[161,217,155],[116,196,118],[65,171,93],[35,139,69],[0,109,44],[0,68,27]];
function bandColor(band, count) {
  const t = (0.04 + 0.96 * band / (count - 1)) * (greens.length - 1);
  const i = Math.min(Math.floor(t), greens.length - 2), f = t - i;
  const c = greens[i].map((v, k) => Math.round(v + (greens[i + 1][k] - v) * f));
  return `rgb(${c[0]},${c[1]},${c[2]})`;
}

function toPoints(flat) {
  const pts = [];
  for (let i = 0; i < flat.length; i += 2) pts.push({ x: flat[i], y: flat[i + 1] });
  return pts;
}

function addCanvas(left, top, w, h) {
  const c = document.createElement('canvas');
  c.width = w; c.height = h;
  c.style.left = left + 'px'; c.style.top = top + 'px';
  c.style.width = w + 'px'; c.style.height = h + 'px';
  document.body.appendChild(c);
  return c.getContext('2d');
}

// axes box all round, and the #n label in data units
const framePlugin = {
  id: 'frame',
  afterDraw(chart, args, opts) {
    const a = chart.chartArea, ctx = chart.ctx;
    ctx.save();
    ctx.strokeStyle = axisColor;
    ctx.lineWidth = 1;
    ctx.strokeRect(a.left + 0.5, a.top + 0.5, a.right - a.left, a.bottom - a.top);
    if (opts.text) {
      ctx.fillStyle = '#000';
      ctx.font = '20px "Liberation Serif", serif';
      ctx.textBaseline = 'alphabetic';
      ctx.fillText(opts.text, chart.scales.x.getPixelForValue(labelX), chart.scales.y.getPixelForValue(labelY));
    }
    ctx.restore();
  }
};

function drawPanel(p) {
  const count = bandCounts[p];
  const bottomRow = p >= 9;
  const leftW = 49, rightPad = 20, topPad = 10, bottomH = bottomRow ? 36 : 24;
  const ctx = addCanvas(plotLeft[p] - leftW, plotTop[p] - topPad, leftW + plotW + rightPad + 1, topPad + plotH + bottomH);

  const base = [[0, [-8, 0, -6, 0, -6, 100, -8, 100]]];
  const datasets = base.concat(panelContours[p]).map(([band, flat], i) => ({
    data: toPoints(flat),
    showLine: true,
    fill: 'shape',
    backgroundColor: bandColor(band, count),
    borderWidth: 0,
    pointRadius: 0,
    tension: band === 0 ? 0 : 0.3,
    order: -(band * 1000 + i)
  }));

  new Chart(ctx, {
    type: 'scatter',
    data: { datasets },
    plugins: [framePlugin],
    options: {
      responsive: false,
      animation: false,
      layout: { padding: { top: topPad, right: rightPad, left: 0, bottom: 0 } },
      plugins: { legend: { display: false }, tooltip: { enabled: false }, frame: { text: panelNames[p] } },
      scales: {
        x: {
          type: 'linear', min: -8, max: -6,
          afterBuildTicks: s => { s.ticks = xTicks.map(value => ({ value })); },
          afterFit: s => { s.height = bottomH; },
          border: { display: false },
          grid: { drawOnChartArea: false, tickLength: 4, color: axisColor },
          ticks: {
            autoSkip: false, maxRotation: 0, padding: 2, color: textColor,
            font: { family: fontName, size: 10.4 },
            callback: v => v.toFixed(2).replace('-', '\u2212')
          },
          title: { display: bottomRow, text: 'log I([CII])', color: textColor, padding: { top: 0, bottom: 3 }, font: { family: fontName, size: 12 } }
        },
        y: {
          type: 'linear', min: 0, max: 100,
          afterBuildTicks: s => { s.ticks = yTicks.map(value => ({ value })); },
          afterFit: s => { s.width = leftW; },
          border: { display: false },
          grid: { drawOnChartArea: false, tickLength: 4, color: axisColor },
          ticks: { autoSkip: false, padding: 2, color: textColor, font: { family: fontName, size: 10.4 } },
          title: { display: true, text: 'f(H2) [%]', color: textColor, padding: { top: 7, bottom: 0 }, font: { family: fontName, size: 12 } }
        }
      }
    }
  });
}

function drawColorbar(p) {
  const count = bandCounts[p];
  const step = cbarMax[p] / count;
  const labels = cbarTicks[p];
  const topPad = 10, leftPad = 1, rightW = 40;
  const ctx = addCanvas(cbarLeft[p] - leftPad, plotTop[p] - topPad, leftPad + cbarW + rightW, topPad + plotH + 10);
  const datasets = [];
  for (let b = 0; b < count; b++) {
    datasets.push({ data: [step], backgroundColor: bandColor(b, count), borderWidth: 0, barPercentage: 1, categoryPercentage: 1 });
  }
  new Chart(ctx, {
    type: 'bar',
    data: { labels: [''], datasets },
    plugins: [framePlugin],
    options: {
      responsive: false,
      animation: false,
      layout: { padding: { top: topPad, left: leftPad, right: 0, bottom: 10 } },
      plugins: { legend: { display: false }, tooltip: { enabled: false } },
      scales: {
        x: { stacked: true, display: false },
        y: {
          stacked: true, position: 'right', min: 0, max: cbarMax[p],
          afterBuildTicks: s => { s.ticks = labels.map(t => ({ value: parseFloat(t) })); },
          afterFit: s => { s.width = rightW; },
          border: { display: false },
          grid: { drawOnChartArea: false, tickLength: 3, color: axisColor },
          ticks: {
            autoSkip: false, padding: 2, color: textColor, font: { family: fontName, size: 8.3 },
            callback: v => labels.find(t => parseFloat(t) === v)
          }
        }
      }
    }
  });
}

panelContours.forEach((_, p) => { drawPanel(p); drawColorbar(p); });
</script>
</body>
</html>
